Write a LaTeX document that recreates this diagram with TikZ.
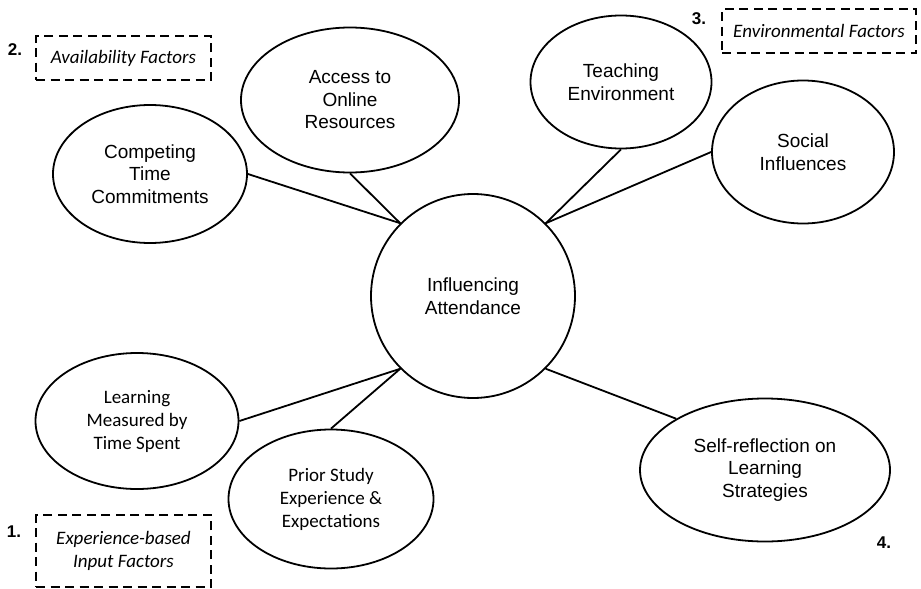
\documentclass[tikz,border=0pt]{standalone}
\usepackage{fontspec}
\setmainfont{Liberation Sans}
\newfontfamily\calibri{Carlito}
\usetikzlibrary{shapes.geometric}

\begin{document}
\begin{tikzpicture}[x=1pt,y=-1pt,
    bubble/.style={draw,ellipse,line width=1.8pt,inner sep=0pt,align=center,
      font=\fontsize{19}{22.5}\selectfont},
    cbubble/.style={bubble,font=\calibri\fontsize{19}{23}\selectfont},
    factor/.style={draw,dash pattern=on 9pt off 5.5pt,line width=1.8pt,inner sep=0pt,
      align=center,font=\calibri\itshape\fontsize{19}{23}\selectfont},
    num/.style={font=\bfseries\fontsize{17}{20}\selectfont},
    link/.style={line width=1.8pt}]
  \useasboundingbox (0,0) rectangle (921,589);

  \node[bubble,circle,minimum size=204pt] (attend) at (473,296) {Influencing\\Attendance};

  \node[bubble,minimum width=194pt,minimum height=138pt] (compete) at (150,174) {Competing\\Time\\Commitments};
  \node[bubble,minimum width=218pt,minimum height=145pt] (access) at (350,100) {Access to\\Online\\Resources};
  \node[bubble,minimum width=181pt,minimum height=133pt] (teach) at (621,82) {Teaching\\Environment};
  \node[bubble,minimum width=182pt,minimum height=143pt] (social) at (803,152) {Social\\Influences};
  \node[cbubble,minimum width=203pt,minimum height=136pt] (measured) at (137,421) {Learning\\Measured by\\Time Spent};
  \node[cbubble,minimum width=205pt,minimum height=139pt] (prior) at (331,499) {Prior Study\\Experience \&\\Expectations};
  \node[bubble,minimum width=250pt,minimum height=143pt] (reflect) at (765,470) {Self-reflection on\\Learning\\Strategies};

  \draw[link] (compete.east) -- (attend.135);
  \draw[link] (access.south) -- (attend.135);
  \draw[link] (teach.south) -- (attend.45);
  \draw[link] (social.west) -- (attend.45);
  \draw[link] (measured.east) -- (attend.225);
  \draw[link] (prior.north) -- (attend.225);
  \draw[link] (reflect.150) -- (attend.315);

  \node[factor,minimum width=175pt,minimum height=44pt] (avail) at (123.5,58) {Availability Factors};
  \node[factor,minimum width=194pt,minimum height=44pt] (environ) at (819,31) {Environmental Factors};
  \node[factor,minimum width=175pt,minimum height=72pt] (input) at (123.5,551) {Experience-based\\Input Factors};

  \node[num] (n1) at (14,532) {1.};
  \node[num] (n2) at (15,50) {2.};
  \node[num] (n3) at (699,19) {3.};
  \node[num] (n4) at (884,543) {4.};
\end{tikzpicture}
\end{document}
